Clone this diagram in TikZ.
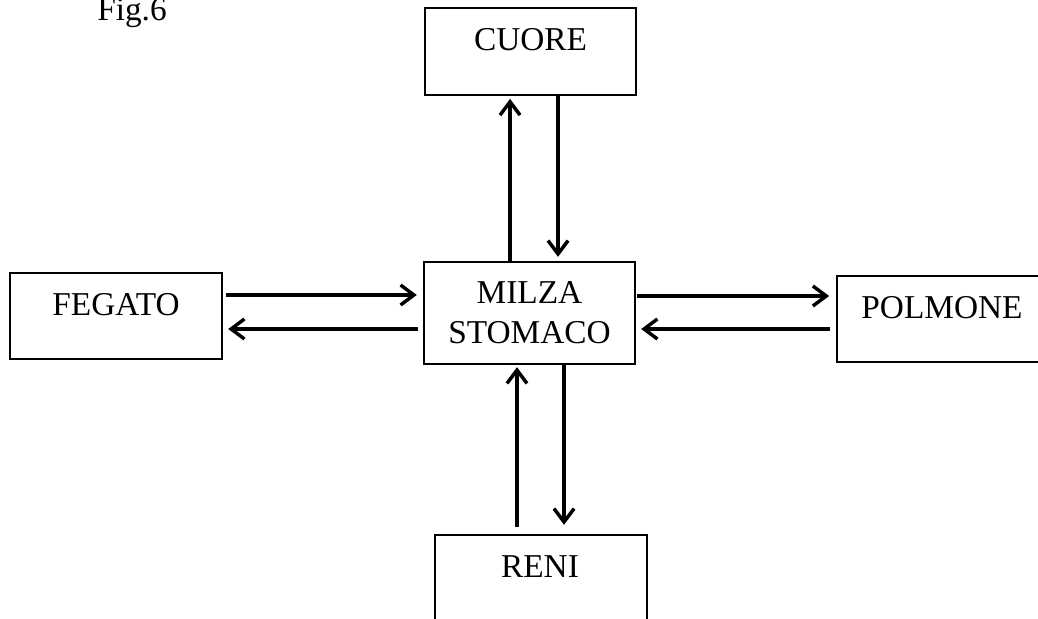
\documentclass[tikz,border=0pt]{standalone}
\usepackage{fontspec}
\setmainfont{Liberation Serif}
\usetikzlibrary{arrows.meta}
\begin{document}
\begin{tikzpicture}[x=0.75pt,y=-0.75pt,
  box/.style={draw, line width=1.8pt, inner sep=0pt, minimum width=158.25pt},
  lbl/.style={anchor=base, inner sep=0pt, font=\fontsize{25}{30}\selectfont},
  arr/.style={line width=2.5pt, -{Straight Barb[length=10pt,width=15pt,line width=2.6pt]}}]
\useasboundingbox (0,0) rectangle (1038,618);
% boxes
\node[box, minimum height=65.25pt] (cuore) at (530.5,51.5) {};
\node[box, minimum height=76.5pt] (milza) at (529.5,313) {};
\node[box, minimum width=159pt, minimum height=64.5pt] (fegato) at (116,316) {};
\node[box, minimum width=157.5pt, minimum height=64.5pt] (polmone) at (942,319) {};
\node[box, minimum width=159pt, minimum height=67.5pt] (reni) at (541,580) {};
% labels
\node[lbl] (fig) at (97,20) [anchor=base west] {Fig.6};
\node[lbl] (cuoret) at (530.5,50) {CUORE};
\node[lbl] (milzat) at (529.5,303) {MILZA};
\node[lbl] (stomacot) at (529.5,343) {STOMACO};
\node[lbl] (fegatot) at (116,315) {FEGATO};
\node[lbl] (polmonet) at (942,318) {POLMONE};
\node[lbl] (renit) at (540,577) {RENI};
% connection points
\coordinate (mu) at ([xshift=-14.6pt]milza.north);
\coordinate (md) at ([xshift=21.4pt]milza.north);
\coordinate (ml1) at ([yshift=13.5pt]milza.west);
\coordinate (ml2) at ([yshift=-12pt]milza.west);
\coordinate (mr1) at ([yshift=12.75pt]milza.east);
\coordinate (mr2) at ([yshift=-12pt]milza.east);
\coordinate (bu) at ([xshift=-9.4pt]milza.south);
\coordinate (bd) at ([xshift=25.9pt]milza.south);
% arrows
\draw[arr, shorten >=2pt] (mu) -- (mu |- cuore.south);
\draw[arr, shorten >=3pt] (md |- cuore.south) -- (md);
\draw[arr, shorten <=2pt, shorten >=4.5pt] (ml1 -| fegato.east) -- (ml1);
\draw[arr, shorten <=3.75pt, shorten >=3.75pt] (ml2) -- (ml2 -| fegato.east);
\draw[arr, shorten <=0.75pt, shorten >=5pt] (mr1) -- (mr1 -| polmone.west);
\draw[arr, shorten <=4.5pt, shorten >=3.75pt] (mr2 -| polmone.west) -- (mr2);
\draw[arr, shorten <=5pt, shorten >=1.5pt] (bu |- reni.north) -- (bu);
\draw[arr, shorten >=6.75pt] (bd) -- (bd |- reni.north);
\end{tikzpicture}
\end{document}
